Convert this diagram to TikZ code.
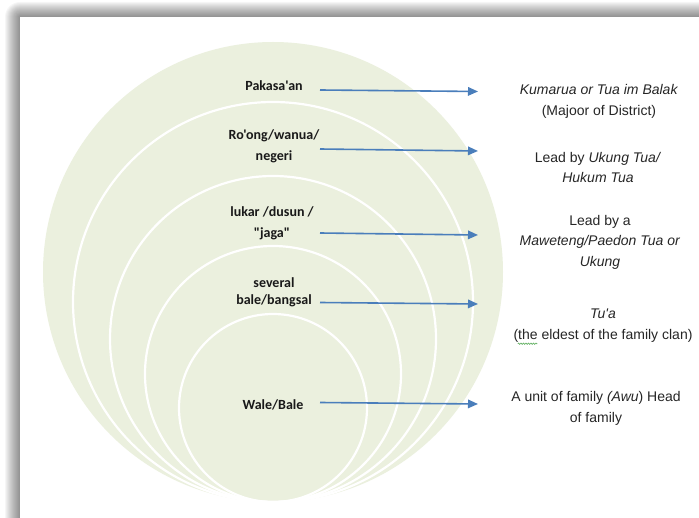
\documentclass[tikz,border=0pt]{standalone}
\usepackage{fontspec}
\setmainfont[Ligatures=TeXOff]{Liberation Sans}
\newfontfamily\levelfont[Ligatures=TeXOff]{Carlito}
\usetikzlibrary{arrows.meta,calc,decorations.pathmorphing}
\definecolor{ringfill}{HTML}{EBF0DE}
\definecolor{arrowblue}{HTML}{4A7EBB}
\definecolor{spellgreen}{HTML}{5FAF5F}

\begin{document}
\begin{tikzpicture}[x=1pt,y=-1pt,
    every node/.style={inner sep=0pt},
    level/.style={font=\levelfont\bfseries\fontsize{14}{21}\selectfont,align=center,text=black!90},
    role/.style={font=\fontsize{14}{20.5}\selectfont,align=center,text=black!85},
    link/.style={arrowblue,line width=1.6pt,-{Triangle[length=10pt,width=8.5pt]}},
    ring/.style={draw=white,line width=2.2pt}]

    % Page frame with a soft shadow on the top and left
    \useasboundingbox (0,0) rectangle (699,518);
    \clip (0,0) rectangle (699,518);
    \coordinate (panel) at (20,17);
    \foreach \i in {1,...,15}
        \fill[black,opacity=0.035,rounded corners=\i pt] ($(panel)+(-\i,-\i)$) rectangle (740,550);
    \fill[white] (panel) rectangle (740,550);

    % Nested rings, all touching at the bottom
    \coordinate (base) at (273,502);
    \fill[ringfill] ($(base)+(0,-230)$) circle (230);
    \foreach \r in {200,163,128,94}
        \draw[ring] ($(base)+(0,-\r)$) circle (\r);

    % Levels inside the rings
    \node[level] (pakasaan) at (274,86) {Pakasa'an};
    \node[level] (roong) at (274,146) {Ro'ong/wanua/\\negeri};
    \node[level] (lukar) at (272,223) {lukar /dusun /\\"jaga"};
    \node[level] (bale) at (274,292) {several\\[-4pt]bale/bangsal};
    \node[level] (wale) at (273,405) {Wale/Bale};

    % Who leads each level
    \node[role] (kumarua) at (599,101.5) {\textit{Kumarua or Tua im Balak}\\(Majoor of District)};
    \node[role] (ukung) at (598,167.5) {Lead by \textit{Ukung Tua/}\\\textit{Hukum Tua}};
    \node[role] (maweteng) at (600,242) {Lead by a\\\textit{Maweteng/Paedon Tua or}\\\textit{Ukung}};
    \node[role] (tua) at (603,325.5) {\textit{Tu'a}\\(the eldest of the family clan)};
    \node[role] (awu) at (596,408.5) {A unit of family \textit{(Awu}) Head\\of family};

    % spell-check wave under "the"
    \draw[spellgreen,line width=0.6pt,decorate,decoration={zigzag,segment length=2.5pt,amplitude=0.7pt}]
        ($(tua.south west)+(4.5,1.5)$) -- ($(tua.south west)+(24,1.5)$);

    % Arrows from each level to its leader
    \foreach \k/\ya/\yb in {1/90/91.5,2/149/151,3/233/235,4/302.5/304,5/402.5/404} {
        \coordinate (tail\k) at (320,\ya);
        \coordinate (head\k) at (478,\yb);
        \draw[link] (tail\k) -- (head\k);
    }
\end{tikzpicture}
\end{document}
